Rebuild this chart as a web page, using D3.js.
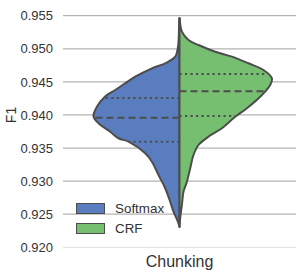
<!DOCTYPE html>
<html>
<head>
<meta charset="utf-8">
<script src="https://cdn.jsdelivr.net/npm/d3@7"></script>
<style>
  body { margin: 0; background: #fff; }
  text { font-family: "Liberation Sans", Arial, sans-serif; fill: #333; }
</style>
</head>
<body>
<svg id="chart" width="300" height="275"></svg>
<script>
// Data
const categories = ["Chunking"];
const seriesNames = ["Softmax", "CRF"];
const yTicks = [0.920, 0.925, 0.930, 0.935, 0.940, 0.945, 0.950, 0.955];

// estimated density profile (F1 value -> kde height)
const softmaxF1 = [0.95461, 0.95284, 0.95103, 0.95032, 0.94881, 0.94781, 0.94705, 0.94578, 0.94479,
  0.94377, 0.94276, 0.94125, 0.93974, 0.93874, 0.93747, 0.93648, 0.93596, 0.93421, 0.93294,
  0.93093, 0.92892, 0.92690, 0.92538, 0.92387, 0.92307];
const softmaxDensity = [0.3, 0.5, 1, 1.5, 4.3, 14.3, 27.6, 44.3, 54.3,
  64.3, 74.6, 82.6, 86, 81, 69.3, 61, 51, 34.3, 27.6,
  21, 14.3, 9.3, 6, 1.6, 0];
const crfF1 = [0.95461, 0.95258, 0.95133, 0.95057, 0.94956, 0.94881, 0.94781, 0.94680, 0.94554,
  0.94453, 0.94302, 0.94101, 0.93974, 0.93799, 0.93672, 0.93546, 0.93395, 0.93194, 0.92992,
  0.92841, 0.92640, 0.92443, 0.92307];
const crfDensity = [0.3, 2.4, 9, 19, 35.7, 52.4, 69, 84, 92.4,
  90.7, 82.4, 67.4, 55.7, 42.4, 29, 19, 14, 10.7, 7.4,
  4, 2.4, 0.7, 0];

// quartiles: q1, median, q3
const softmaxQuartiles = [0.93596, 0.93959, 0.94256];
const crfQuartiles = [0.93984, 0.94358, 0.94619];

// Layout
const width = 300, height = 275;
const colors = ["#597dbf", "#76bf71"];
const lineColor = "#4d4d4d";

const svg = d3.select("#chart");

const y = d3.scaleLinear()
  .domain([0.920, 0.955])
  .range([247.3, 15.7]);
const x = d3.scaleBand()
  .domain(categories)
  .range([63, 296]);
const w = d3.scaleLinear()
  .domain([0, 100])
  .range([0, 100]);

const center = x(categories[0]) + x.bandwidth() / 2;

// Grid
svg.append("g")
  .selectAll("line")
  .data(yTicks)
  .join("line")
  .attr("x1", 63)
  .attr("x2", 296)
  .attr("y1", d => y(d))
  .attr("y2", d => y(d))
  .attr("stroke", (d, i) => i === 0 ? "#e6e6e6" : "#b3b3b3")
  .attr("stroke-width", 1.2);

// Y tick labels
svg.append("g")
  .selectAll("text")
  .data(yTicks)
  .join("text")
  .attr("x", 53)
  .attr("y", d => y(d))
  .attr("dy", "0.36em")
  .attr("text-anchor", "end")
  .style("font-size", "13px")
  .text(d => d3.format(".3f")(d));

// Violins
const sides = [
  { f1: softmaxF1, dens: softmaxDensity, q: softmaxQuartiles, dir: -1, color: colors[0] },
  { f1: crfF1, dens: crfDensity, q: crfQuartiles, dir: 1, color: colors[1] }
];

sides.forEach(s => {
  const pts = s.f1.map((v, i) => [v, s.dens[i]]);
  const area = d3.area()
    .curve(d3.curveCatmullRom)
    .y(d => y(d[0]))
    .x0(center)
    .x1(d => center + s.dir * w(d[1]));

  svg.append("path")
    .datum(pts)
    .attr("d", area)
    .attr("fill", s.color)
    .attr("stroke", lineColor)
    .attr("stroke-width", 2)
    .attr("stroke-linejoin", "round");

  const densAt = d3.scaleLinear().domain(s.f1).range(s.dens);
  svg.append("g")
    .selectAll("line")
    .data(s.q)
    .join("line")
    .attr("x1", center)
    .attr("x2", d => center + s.dir * (w(densAt(d)) - 1))
    .attr("y1", d => y(d))
    .attr("y2", d => y(d))
    .attr("stroke", lineColor)
    .attr("stroke-width", 2)
    .attr("stroke-dasharray", (d, i) => i === 1 ? "7,4" : "2.2,3.3");
});

// Legend
const legend = svg.append("g");
seriesNames.forEach((name, i) => {
  legend.append("rect")
    .attr("x", 76.5)
    .attr("y", 203.5 + i * 20)
    .attr("width", 28)
    .attr("height", 10)
    .attr("fill", colors[i])
    .attr("stroke", lineColor)
    .attr("stroke-width", 1);
  legend.append("text")
    .attr("x", 115)
    .attr("y", 213 + i * 20)
    .style("font-size", "13.4px")
    .text(name);
});

// Axis labels
svg.append("text")
  .attr("x", center)
  .attr("y", 267)
  .attr("text-anchor", "middle")
  .style("font-size", "16px")
  .text(categories[0]);

svg.append("text")
  .attr("transform", "translate(15.5,115) rotate(-90)")
  .attr("text-anchor", "middle")
  .style("font-size", "14px")
  .text("F1");
</script>
</body>
</html>
